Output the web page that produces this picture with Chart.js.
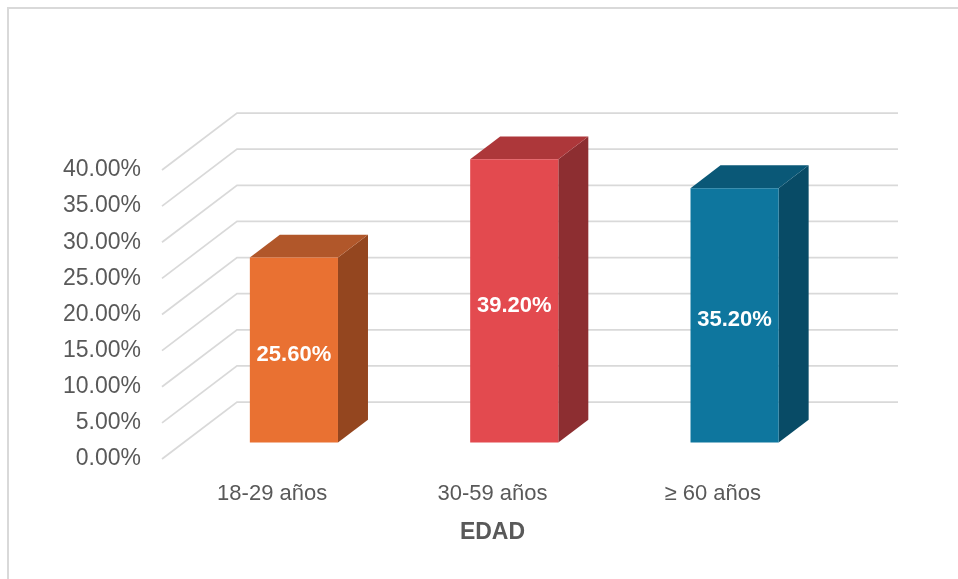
<!DOCTYPE html>
<html>
<head>
<meta charset="utf-8">
<script src="https://cdn.jsdelivr.net/npm/chart.js@4.4.1/dist/chart.umd.min.js"></script>
<style>
  html, body { margin: 0; padding: 0; background: #fff; }
  #wrap { width: 958px; height: 579px; }
</style>
</head>
<body>
<div id="wrap"><canvas id="edadChart" width="958" height="579"></canvas></div>
<script>
// data
const categories = ['18-29 años', '30-59 años', '≥ 60 años'];
const percentages = [25.6, 39.2, 35.2];
const yMin = 0;
const yMax = 40;
const yStep = 5;

// face colours for each bar
const frontColors = ['#E97132', '#E34A4F', '#0E769E'];
const topColors = ['#B1572A', '#AD373A', '#0A5877'];
const sideColors = ['#94461F', '#8D2E31', '#084B66'];

// oblique depth of the floor, and where the bars sit inside it
const DEPTH_X = 75;
const DEPTH_Y = 57;
const BAR_FRONT = 0.29;
const BAR_DEPTH = 0.4;

const FONT = "'Liberation Sans', Arial, sans-serif";
const TEXT = '#595959';

function fillPoly(ctx, pts, color) {
    ctx.beginPath();
    ctx.moveTo(pts[0][0], pts[0][1]);
    for (let i = 1; i < pts.length; i++) ctx.lineTo(pts[i][0], pts[i][1]);
    ctx.closePath();
    ctx.fillStyle = color;
    ctx.fill();
}

const threeD = {
    id: 'threeD',
    beforeDraw(chart) {
        const { ctx, width, height } = chart;
        ctx.save();
        ctx.fillStyle = '#fff';
        ctx.fillRect(0, 0, width, height);
        ctx.strokeStyle = '#D9D9D9';
        ctx.lineWidth = 2;
        ctx.strokeRect(8, 8, width, height);
        ctx.restore();
    },
    beforeDatasetsDraw(chart) {
        // side wall + back wall gridlines
        const { ctx, chartArea } = chart;
        const y = chart.scales.y;
        ctx.save();
        ctx.strokeStyle = '#D9D9D9';
        ctx.lineWidth = 1.75;
        y.ticks.forEach(t => {
            const py = y.getPixelForValue(t.value);
            ctx.beginPath();
            ctx.moveTo(chartArea.left, py);
            ctx.lineTo(chartArea.left + DEPTH_X, py - DEPTH_Y);
            ctx.lineTo(chartArea.right + DEPTH_X, py - DEPTH_Y);
            ctx.stroke();
        });
        ctx.restore();
    },
    afterDatasetsDraw(chart) {
        const { ctx } = chart;
        const meta = chart.getDatasetMeta(0);
        const ox = DEPTH_X * BAR_FRONT, oy = DEPTH_Y * BAR_FRONT;
        const dx = DEPTH_X * BAR_DEPTH, dy = DEPTH_Y * BAR_DEPTH;
        ctx.save();
        meta.data.forEach((bar, i) => {
            const p = bar.getProps(['x', 'y', 'base', 'width'], true);
            const l = p.x - p.width / 2 + ox;
            const r = p.x + p.width / 2 + ox;
            const t = p.y - oy;
            const b = p.base - oy;
            fillPoly(ctx, [[r, t], [r + dx, t - dy], [r + dx, b - dy], [r, b]], sideColors[i]);
            fillPoly(ctx, [[l, t], [l + dx, t - dy], [r + dx, t - dy], [r, t]], topColors[i]);
            fillPoly(ctx, [[l, t], [r, t], [r, b], [l, b]], frontColors[i]);

            // value label in the middle of the front face
            ctx.fillStyle = '#fff';
            ctx.font = 'bold 22px ' + FONT;
            ctx.textAlign = 'center';
            ctx.textBaseline = 'middle';
            ctx.fillText(percentages[i].toFixed(2) + '%', (l + r) / 2, (t + b) / 2 + 5);
        });
        ctx.restore();
    }
};

const ctx = document.getElementById('edadChart').getContext('2d');
const edadChart = new Chart(ctx, {
    type: 'bar',
    data: {
        labels: categories,
        datasets: [{
            label: 'EDAD',
            data: percentages,
            backgroundColor: 'rgba(0,0,0,0)',
            borderWidth: 0,
            categoryPercentage: 1,
            barPercentage: 0.4
        }]
    },
    options: {
        responsive: false,
        animation: false,
        devicePixelRatio: 1,
        events: [],
        layout: {
            padding: { top: 170, right: 135, bottom: 0, left: 0 }
        },
        plugins: {
            legend: { display: false },
            tooltip: { enabled: false }
        },
        scales: {
            x: {
                grid: { display: false, drawTicks: false },
                border: { display: false },
                ticks: {
                    color: TEXT,
                    font: { family: FONT, size: 22 },
                    padding: 22
                },
                title: {
                    display: true,
                    text: 'EDAD',
                    color: TEXT,
                    font: { family: FONT, size: 23, weight: 'bold' },
                    padding: { top: 0, bottom: 33 }
                },
                afterFit: s => { s.height = 120; }
            },
            y: {
                min: yMin,
                max: yMax,
                grid: { display: false, drawTicks: false },
                border: { display: false },
                ticks: {
                    stepSize: yStep,
                    color: TEXT,
                    font: { family: FONT, size: 23 },
                    padding: 21,
                    callback: v => v.toFixed(2) + '%'
                },
                afterFit: s => { s.width = 162; }
            }
        }
    },
    plugins: [threeD]
});
</script>
</body>
</html>
